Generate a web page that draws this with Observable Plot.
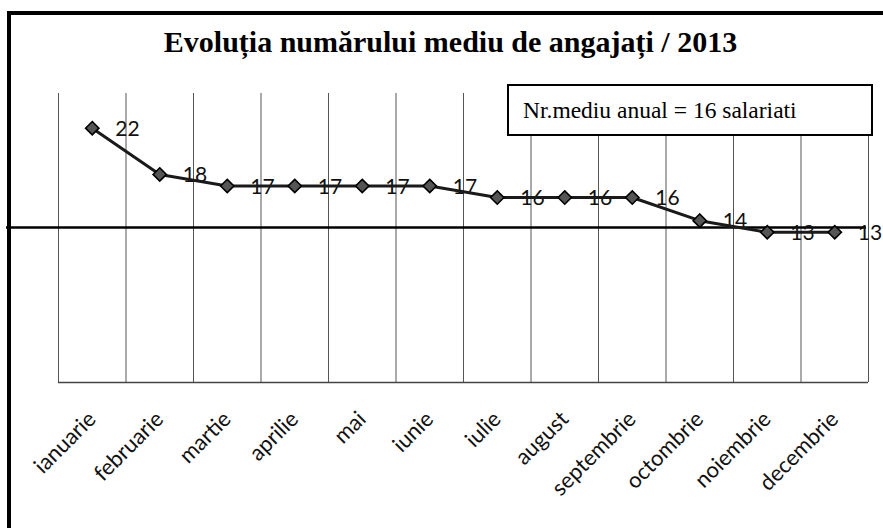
<!DOCTYPE html>
<html>
<head>
<meta charset="utf-8">
<script src="https://cdn.jsdelivr.net/npm/d3@7"></script>
<script src="https://cdn.jsdelivr.net/npm/@observablehq/plot@0.6"></script>
<style>
  html, body { margin: 0; padding: 0; background: #fff; }
  #wrap { position: relative; width: 883px; height: 528px; overflow: hidden; background: #fff; }
  #frame { position: absolute; left: 7px; top: 11px; width: 1000px; height: 1000px;
           border-left: 4px solid #000; border-top: 4px solid #000; box-sizing: border-box; }
  #chart { position: absolute; left: 0; top: 0; }
  #title { position: absolute; left: 0; width: 901px; top: 25px; text-align: center;
           font-family: "Liberation Serif", "Times New Roman", serif; font-weight: bold;
           font-size: 30px; color: #000; white-space: nowrap; }
  #legend { position: absolute; left: 507px; top: 84px; width: 366px; height: 52px;
            box-sizing: border-box; border: 2px solid #000; background: #fff;
            font-family: "Liberation Serif", "Times New Roman", serif; font-size: 23.5px;
            display: flex; align-items: center; padding-left: 14px; padding-top: 1px; white-space: nowrap; }
</style>
</head>
<body>
<div id="wrap">
  <div id="chart"></div>
  <div id="frame"></div>
  <div id="title"></div>
  <div id="legend"></div>
</div>
<script>
const titleText = "Evoluția numărului mediu de angajați / 2013";
const legendText = "Nr.mediu anual = 16 salariati";
const months = ["ianuarie", "februarie", "martie", "aprilie", "mai", "iunie",
                "iulie", "august", "septembrie", "octombrie", "noiembrie", "decembrie"];
const employees = [22, 18, 17, 17, 17, 17, 16, 16, 16, 14, 13, 13];
const yDomain = [0, 25];
const referenceLine = 13.4;

document.getElementById("title").textContent = titleText;
document.getElementById("legend").textContent = legendText;

const data = months.map((m, i) => ({month: m, pos: i + 0.5, value: employees[i]}));
const boundaries = d3.range(months.length + 1);

const chart = Plot.plot({
  width: 883,
  height: 528,
  marginTop: 93,
  marginBottom: 146,
  marginLeft: 6,
  marginRight: 17,
  style: {background: "transparent", overflow: "visible"},
  x: {type: "linear", domain: [0, months.length], range: [58, 868], axis: null},
  y: {domain: yDomain, axis: null},
  marks: [
    Plot.ruleX(boundaries, {x: d => d, y1: yDomain[0], y2: yDomain[1], stroke: "#555", strokeWidth: 1}),
    Plot.ruleY([yDomain[0]], {x1: 0, x2: months.length, stroke: "#444", strokeWidth: 1.3}),
    Plot.ruleY([referenceLine], {stroke: "#000", strokeWidth: 2.5}),
    Plot.text(data, {x: "pos", y: "value", text: d => String(d.value), textAnchor: "start",
      dx: 23, dy: 1, fontSize: 21, fontFamily: "Lato, 'Open Sans', sans-serif", fill: "#111"}),
    Plot.line(data, {x: "pos", y: "value", stroke: "#1a1a1a", strokeWidth: 3}),
    Plot.dot(data, {x: "pos", y: "value", symbol: "diamond2", r: 6, fill: "#555", stroke: "#000", strokeWidth: 1.6}),
    Plot.text(data, {x: "pos", y: () => yDomain[0], text: "month", rotate: -45, textAnchor: "end",
      dx: 0, dy: 33, fontSize: 22, fontFamily: "Lato, 'Open Sans', sans-serif", fill: "#111"})
  ]
});
document.getElementById("chart").appendChild(chart);
</script>
</body>
</html>
